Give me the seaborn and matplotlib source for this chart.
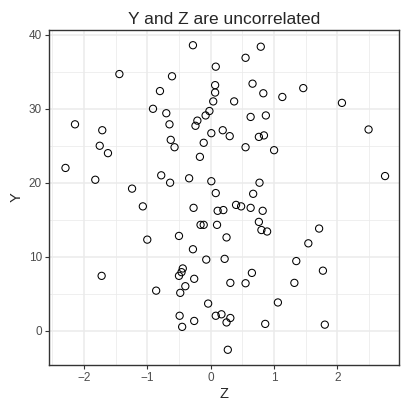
import matplotlib
matplotlib.use("Agg")
import matplotlib.pyplot as plt
import seaborn as sns
import pandas as pd
import numpy as np

z_values = [-0.28, -1.44, -0.61, -0.80, -0.91, -0.70, -0.65, -2.14, -1.71, -1.75,
            -1.62, -0.63, -0.57, -2.29, -1.82, -0.78, -0.64, -0.34, -0.17, -0.24,
            -0.21, -0.08, -0.02, -0.11, 0.01, 0.01, 0.79, 0.55, 0.08, 0.07,
            0.07, 0.04, 0.66, 0.83, 1.13, 1.46, 0.37, 2.07, 0.63, 0.87,
            0.19, 0.30, 0.76, 0.84, 2.49, 0.55, 1.00, 0.77, 2.75, -1.24,
            -1.07, -0.27, -0.16, -0.11, -0.50, -1.00, -0.28, -0.07, -1.72, -0.44,
            -0.46, -0.50, -0.26, -0.40, -0.48, -0.86, -0.04, -0.49, -0.26, -0.45,
            0.08, 0.67, 0.40, 0.48, 0.63, 0.11, 0.20, 0.82, 0.10, 0.76,
            0.80, 0.89, 1.71, 1.54, 0.25, 0.22, 1.35, 0.65, 1.77, 0.31,
            0.55, 1.32, 1.06, 0.08, 0.17, 0.31, 0.25, 0.86, 1.80, 0.27]
y_values = [38.6, 34.7, 34.4, 32.4, 30.0, 29.4, 27.9, 27.9, 27.1, 25.0,
            24.0, 25.8, 24.8, 22.0, 20.4, 21.0, 20.0, 20.6, 23.5, 27.7,
            28.4, 29.1, 29.7, 25.4, 26.7, 20.2, 38.4, 36.9, 35.7, 33.2,
            32.2, 31.0, 33.4, 32.1, 31.6, 32.8, 31.0, 30.8, 28.9, 29.1,
            27.1, 26.3, 26.2, 26.4, 27.2, 24.8, 24.4, 20.0, 20.9, 19.2,
            16.8, 16.6, 14.3, 14.3, 12.8, 12.3, 11.0, 9.6, 7.4, 8.4,
            7.9, 7.4, 7.0, 6.0, 5.1, 5.4, 3.65, 2.0, 1.3, 0.5,
            18.6, 18.5, 17.0, 16.8, 16.6, 16.2, 16.3, 16.2, 14.3, 14.7,
            13.6, 13.4, 13.8, 11.8, 12.6, 9.7, 9.4, 7.8, 8.1, 6.45,
            6.4, 6.45, 3.8, 2.0, 2.2, 1.7, 1.1, 0.9, 0.8, -2.6]
x_ticks = [-2, -1, 0, 1, 2]
y_ticks = [0, 10, 20, 30, 40]
title = "Y and Z are uncorrelated"

df = pd.DataFrame({"Z": z_values, "Y": y_values})

sns.set_theme(style="white")
plt.rcParams['font.family'] = ['Liberation Sans', 'DejaVu Sans']

fig = plt.figure(figsize=(4.01, 4.01), dpi=100)
ax = fig.add_axes([49/401, 36/401, 350/401, 335/401])

sns.scatterplot(data=df, x="Z", y="Y", ax=ax, marker="o", s=27,
                facecolor="none", edgecolor="black", linewidth=0.75, zorder=3)

ax.set_xlim(-2.55, 2.97)
ax.set_ylim(-4.66, 40.66)
ax.set_xticks(x_ticks)
ax.set_yticks(y_ticks)
ax.set_xticklabels([str(t).replace('-', '\u2212') for t in x_ticks])
ax.set_xticks([-2.5, -1.5, -0.5, 0.5, 1.5, 2.5], minor=True)
ax.set_yticks([5, 15, 25, 35], minor=True)
ax.grid(True, which='major', color='#ebebeb', linewidth=1.1, zorder=0)
ax.grid(True, which='minor', color='#ebebeb', linewidth=0.55, zorder=0)
ax.set_axisbelow(True)
for s in ax.spines.values():
    s.set_color('#333333')
    s.set_linewidth(1.0)
ax.tick_params(which='major', length=3, width=0.8, color='#333333', labelsize=8.5,
               labelcolor='#4d4d4d', pad=2, bottom=True, left=True)
ax.tick_params(which='minor', length=0)
ax.set_xlabel("Z", fontsize=10.5, labelpad=2)
ax.set_ylabel("Y", fontsize=10.5, labelpad=4)
ax.set_title(title, fontsize=12.5, pad=4)

fig.savefig("out.png", dpi=100)
